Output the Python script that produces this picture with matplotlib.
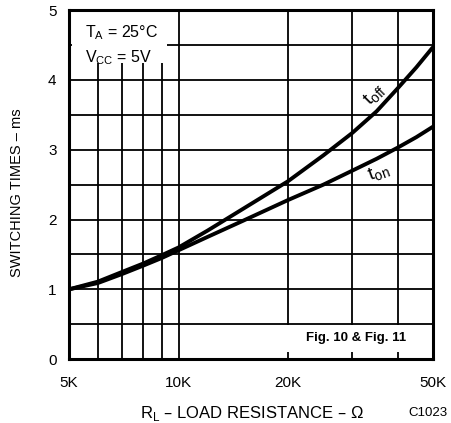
import matplotlib
matplotlib.use("Agg")
import matplotlib.pyplot as plt
from matplotlib.patches import Rectangle
from matplotlib.ticker import FixedLocator, NullFormatter, NullLocator

plt.rcParams['font.family'] = ['Liberation Sans', 'DejaVu Sans']

# Data (kOhm, ms)
r_load = [5, 6, 7, 8, 9, 10, 12, 15, 20, 25, 30, 35, 40, 45, 50]
t_off = [1.0, 1.11, 1.25, 1.37, 1.49, 1.60, 1.84, 2.15, 2.55, 2.92, 3.24, 3.55, 3.88, 4.18, 4.47]
t_on = [1.0, 1.09, 1.22, 1.34, 1.45, 1.56, 1.75, 1.98, 2.28, 2.50, 2.70, 2.87, 3.03, 3.18, 3.33]
x_ticks = [5, 10, 20, 50]
x_tick_labels = ["5K", "10K", "20K", "50K"]
x_grid = [6, 7, 8, 9, 10, 20, 30, 40]
y_ticks = [0, 1, 2, 3, 4, 5]

fig = plt.figure(figsize=(4.51, 4.23), dpi=100)
ax = fig.add_axes([0.153, 0.151, 0.807, 0.825])
ax.set_xscale('log')
ax.set_xlim(5, 50)
ax.set_ylim(0, 5)

# grid
for xv in x_grid:
    ax.axvline(xv, color='black', lw=1.3, zorder=1)
for yv in [0.5 * i for i in range(1, 10)]:
    ax.axhline(yv, color='black', lw=1.3, zorder=1)

# white boxes covering grid
ax.add_patch(Rectangle((0.008, 0.848), 0.262, 0.146, transform=ax.transAxes,
                       facecolor='white', edgecolor='none', zorder=2))
ax.add_patch(Rectangle((0.60, 0.02), 0.397, 0.077, transform=ax.transAxes,
                       facecolor='white', edgecolor='none', zorder=2))

ax.plot(r_load, t_off, color='black', lw=2.8, zorder=3, solid_capstyle='butt')
ax.plot(r_load, t_on, color='black', lw=2.8, zorder=3, solid_capstyle='butt')

for s in ax.spines.values():
    s.set_linewidth(2.2)

ax.xaxis.set_major_locator(FixedLocator(x_ticks))
ax.set_xticklabels(x_tick_labels)
ax.xaxis.set_minor_locator(NullLocator())
ax.xaxis.set_minor_formatter(NullFormatter())
ax.set_yticks(y_ticks)
ax.tick_params(axis='both', length=0, labelsize=11)
ax.tick_params(axis='x', pad=12)
ax.tick_params(axis='y', pad=9)

ax.text(0.045, 0.935, r"T$_\mathregular{A}$ = 25°C", transform=ax.transAxes,
        fontsize=11.5, va='center', ha='left', zorder=4)
ax.text(0.045, 0.865, r"V$_\mathregular{CC}$ = 5V", transform=ax.transAxes,
        fontsize=11.5, va='center', ha='left', zorder=4)
ax.text(0.788, 0.06, "Fig. 10 & Fig. 11", transform=ax.transAxes,
        fontsize=9.5, fontweight='bold', va='center', ha='center', zorder=4)

ax.text(34.8, 3.78, r"t$_\mathregular{off}$", fontsize=14, rotation=45,
        ha='center', va='center', zorder=4)
ax.text(35.5, 2.67, r"t$_\mathregular{on}$", fontsize=14, rotation=20,
        ha='center', va='center', zorder=4)

fig.text(0.038, 0.545, "SWITCHING TIMES – ms", rotation=90, fontsize=10.5,
         ha='center', va='center')
fig.text(0.56, 0.023, r"R$_\mathregular{L}$ – LOAD RESISTANCE – Ω", fontsize=12,
         ha='center', va='center')
fig.text(0.948, 0.023, "C1023", fontsize=9.5, ha='center', va='center')

fig.savefig("out.png", dpi=100)
